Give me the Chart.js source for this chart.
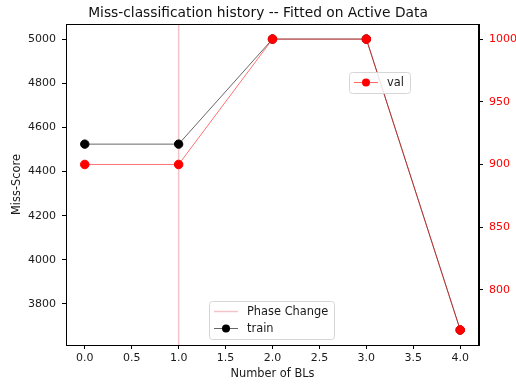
<!DOCTYPE html>
<html>
<head>
<meta charset="utf-8">
<script src="https://cdn.jsdelivr.net/npm/chart.js@4.4.0/dist/chart.umd.min.js"></script>
<style>
html,body{margin:0;padding:0;background:#fff;}
#wrap{width:516px;height:385px;}
</style>
</head>
<body>
<div id="wrap"><canvas id="c" width="516" height="385"></canvas></div>
<script>
// ---- data ----
const blCounts = [0, 1, 2, 3, 4];
const trainScores = [4524, 4524, 5000, 5000, 3682];
const valScores = [900, 900, 1000, 1000, 768];
const phaseChangeAt = [1];
const xTickStep = 0.5;
const leftTickStep = 200;
const rightTickStep = 50;
const xLimits = [-0.2, 4.2];
const leftLimits = [3614, 5068];
const rightLimits = [756, 1012];

const FONT = "'DejaVu Sans', sans-serif";
const phaseColor = 'rgba(220,100,110,0.38)';

const trainData = blCounts.map((x, i) => ({x: x, y: trainScores[i]}));
const valData = blCounts.map((x, i) => ({x: x, y: valScores[i]}));
const phaseData = [{x: phaseChangeAt[0], y: leftLimits[0]}, {x: phaseChangeAt[0], y: leftLimits[1]}];

function drawLegend(ctx, x, y, w, entries) {
  ctx.save();
  ctx.font = '11.4px ' + FONT;
  const rowH = 17;
  const h = rowH * entries.length + 4;
  ctx.fillStyle = 'rgba(255,255,255,0.85)';
  ctx.strokeStyle = '#d6d6d6';
  ctx.lineWidth = 1;
  ctx.beginPath();
  if (ctx.roundRect) ctx.roundRect(x + 0.5, y + 0.5, w, h, 3); else ctx.rect(x + 0.5, y + 0.5, w, h);
  ctx.fill();
  ctx.stroke();
  entries.forEach((e, i) => {
    const cy = y + 2 + rowH * i + rowH / 2;
    ctx.strokeStyle = e.lineColor;
    ctx.lineWidth = e.lineWidth;
    ctx.beginPath();
    ctx.moveTo(x + 5, cy);
    ctx.lineTo(x + 29, cy);
    ctx.stroke();
    if (e.marker) {
      ctx.fillStyle = e.marker;
      ctx.beginPath();
      ctx.arc(x + 17, cy, 4, 0, Math.PI * 2);
      ctx.fill();
    }
    ctx.fillStyle = '#1a1a1a';
    ctx.textBaseline = 'middle';
    ctx.textAlign = 'left';
    ctx.fillText(e.label, x + 38, cy + 0.5);
  });
  ctx.restore();
}

const framePlugin = {
  id: 'frame',
  afterDatasetsDraw(chart) {
    const a = chart.chartArea;
    const ctx = chart.ctx;
    ctx.save();
    ctx.strokeStyle = '#000';
    ctx.lineWidth = 1;
    ctx.strokeRect(Math.round(a.left) + 0.5, Math.round(a.top) + 0.5, Math.round(a.right - a.left) - 1, Math.round(a.bottom - a.top));
    ctx.restore();
    drawLegend(ctx, 209, 301, 125, [
      {label: 'Phase Change', lineColor: phaseColor, lineWidth: 1.5},
      {label: 'train', lineColor: 'rgba(0,0,0,0.6)', lineWidth: 1, marker: '#000'}
    ]);
    drawLegend(ctx, 349, 72, 61, [
      {label: 'val', lineColor: 'rgba(255,0,0,0.6)', lineWidth: 1, marker: '#ff0000'}
    ]);
  }
};

const axisCommon = {
  grid: {drawOnChartArea: false, drawTicks: true, tickLength: 4, tickColor: '#000'},
  border: {display: true, color: '#000', width: 1}
};

new Chart(document.getElementById('c'), {
  type: 'line',
  data: {
    datasets: [
      {
        label: 'val', data: valData, yAxisID: 'y1', order: 0,
        borderColor: 'rgba(255,0,0,0.55)', borderWidth: 1,
        pointBackgroundColor: '#ff0000', pointBorderColor: '#ff0000',
        pointRadius: 4.3, pointHoverRadius: 4.3, tension: 0
      },
      {
        label: 'train', data: trainData, yAxisID: 'y', order: 1,
        borderColor: 'rgba(0,0,0,0.6)', borderWidth: 1,
        pointBackgroundColor: '#000', pointBorderColor: '#000',
        pointRadius: 4.2, pointHoverRadius: 4.2, tension: 0
      },
      {
        label: 'Phase Change', data: phaseData, yAxisID: 'y', order: 2,
        borderColor: phaseColor, borderWidth: 1.5, pointRadius: 0
      }
    ]
  },
  options: {
    responsive: false,
    animation: false,
    devicePixelRatio: 1,
    layout: {padding: 0},
    plugins: {
      legend: {display: false},
      tooltip: {enabled: false},
      title: {
        display: true,
        text: 'Miss-classification history -- Fitted on Active Data',
        color: '#111',
        font: {family: FONT, size: 13.8, weight: 'normal'},
        padding: {top: 5.5, bottom: 2}
      }
    },
    scales: {
      x: Object.assign({}, axisCommon, {
        type: 'linear', position: 'bottom',
        min: xLimits[0], max: xLimits[1],
        ticks: {stepSize: xTickStep, includeBounds: false, color: '#1a1a1a', padding: 3,
          font: {family: FONT, size: 11}, maxRotation: 0,
          callback: v => v.toFixed(1)},
        title: {display: true, text: 'Number of BLs', color: '#1a1a1a', font: {family: FONT, size: 11.4}, padding: {top: 0, bottom: 4}},
        afterFit: s => { s.height = 40; }
      }),
      y: Object.assign({}, axisCommon, {
        type: 'linear', position: 'left',
        min: leftLimits[0], max: leftLimits[1],
        ticks: {stepSize: leftTickStep, includeBounds: false, color: '#1a1a1a', padding: 6,
          font: {family: FONT, size: 11}, callback: v => String(v)},
        title: {display: true, text: 'Miss-Score', color: '#1a1a1a', font: {family: FONT, size: 11.4}, padding: {top: 10, bottom: 0}},
        afterFit: s => { s.width = 66; }
      }),
      y1: Object.assign({}, axisCommon, {
        type: 'linear', position: 'right',
        min: rightLimits[0], max: rightLimits[1],
        ticks: {stepSize: rightTickStep, includeBounds: false, color: '#ff0000', padding: 6,
          font: {family: FONT, size: 11}, callback: v => String(v)},
        afterFit: s => { s.width = 37; }
      })
    }
  },
  plugins: [framePlugin]
});
</script>
</body>
</html>
